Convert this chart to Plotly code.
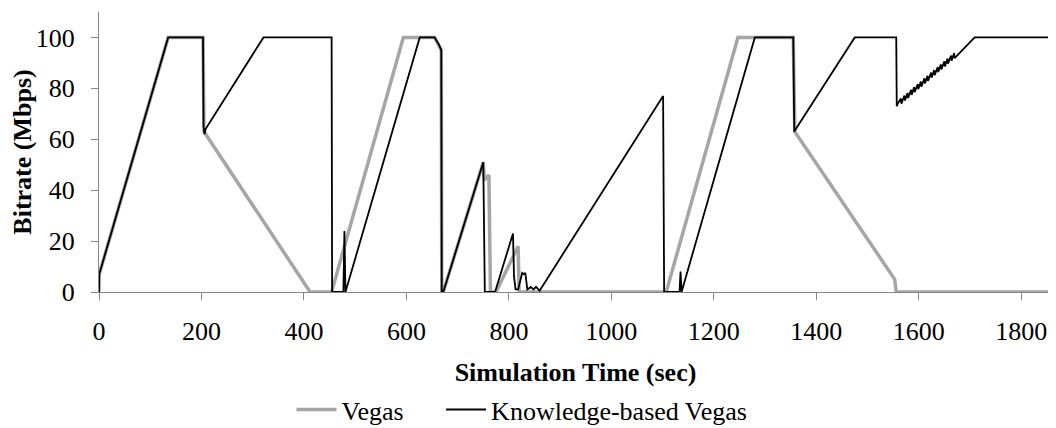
import plotly.graph_objects as go

# Vegas (gray)
vegas_t = [0, 0.5, 135, 203, 205, 412, 454, 594, 655, 664, 668, 669,
           672, 750, 752, 761, 764, 775, 818, 820, 1107, 1247, 1355, 1358,
           1553, 1556, 1860]
vegas_v = [0, 7, 100, 100, 63, 0, 0, 100, 100, 97, 95, 0,
           0, 51, 44, 46, 0, 0, 18, 0, 0, 100, 100, 63,
           5, 0, 0]

# Knowledge-based Vegas (black)
kbv_t = [0, 0.5, 135, 203, 204, 206, 208, 321, 454, 455, 477, 479, 481,
         626, 655, 664, 668, 669, 672, 750, 753, 773, 808, 810, 813, 818,
         826, 829, 832, 836, 843, 848, 853, 860, 1101, 1103, 1133, 1135,
         1137, 1280, 1355, 1357, 1360, 1475, 1556, 1557, 1559,
         1565, 1566, 1572, 1573, 1578, 1579, 1585, 1586, 1591, 1592,
         1598, 1599, 1604, 1605, 1611, 1612, 1617, 1618, 1624, 1625,
         1630, 1631, 1637, 1638, 1643, 1644, 1650, 1651, 1656, 1657,
         1663, 1664, 1669, 1670, 1709, 1860]
kbv_v = [0, 7, 100, 100, 65, 62, 64, 100, 100, 0, 0, 24, 0,
         100, 100, 97, 95, 0, 0, 51, 0, 0, 23, 6, 1, 1,
         7.5, 7, 7.5, 1, 2, 1, 2, 0.5, 77, 0, 0, 8,
         0, 100, 100, 63, 64, 100, 100, 73, 74,
         76.0, 74.0, 77.2, 75.2, 78.2, 76.2, 79.4, 77.4, 80.5, 78.5,
         81.7, 79.7, 82.7, 80.7, 83.9, 81.9, 84.9, 82.9, 86.2, 84.2,
         87.2, 85.2, 88.4, 86.4, 89.4, 87.4, 90.6, 88.6, 91.7, 89.7,
         92.9, 90.9, 93.9, 91.9, 100, 100]

x_ticks = [0, 200, 400, 600, 800, 1000, 1200, 1400, 1600, 1800]
y_ticks = [0, 20, 40, 60, 80, 100]
series_names = ["Vegas", "Knowledge-based Vegas"]

FONT = "Liberation Serif"
AXIS_COLOR = "#868686"
TICKFONT = dict(family=FONT, size=26, color="#000000")

fig = go.Figure()
fig.add_trace(go.Scatter(x=vegas_t, y=vegas_v, mode="lines",
                         name=series_names[0] + "\u00a0" * 5,
                         line=dict(color="#A6A6A6", width=3.5)))
fig.add_trace(go.Scatter(x=kbv_t, y=kbv_v, mode="lines", name=series_names[1],
                         line=dict(color="#000000", width=1.8)))

fig.update_layout(
    width=1048, height=420,
    margin=dict(l=91, r=4, t=4, b=136, autoexpand=False),
    paper_bgcolor="white", plot_bgcolor="white",
    font=dict(family=FONT, size=26, color="#000000"),
    showlegend=True,
    legend=dict(orientation="h", x=0.202, xanchor="left", y=-0.42, yanchor="middle",
                font=dict(family=FONT, size=26), itemwidth=40),
    xaxis=dict(range=[0, 1860], tickvals=x_ticks, showgrid=False, zeroline=False,
               showline=True, linecolor=AXIS_COLOR, linewidth=1, automargin=False,
               ticks="outside", ticklen=7, tickcolor=AXIS_COLOR, ticklabelstandoff=9,
               tickfont=TICKFONT,
               title=dict(text="<b>Simulation Time (sec)</b>", standoff=17,
                          font=dict(family=FONT, size=26))),
    yaxis=dict(range=[0, 110], tickvals=y_ticks, showgrid=False, zeroline=False,
               showline=True, linecolor=AXIS_COLOR, linewidth=1, automargin=False,
               ticks="outside", ticklen=7, tickcolor=AXIS_COLOR, ticklabelstandoff=11,
               tickfont=TICKFONT,
               title=dict(text="<b>Bitrate (Mbps)</b>", standoff=2,
                          font=dict(family=FONT, size=26))),
)

fig.write_html("out.html")
